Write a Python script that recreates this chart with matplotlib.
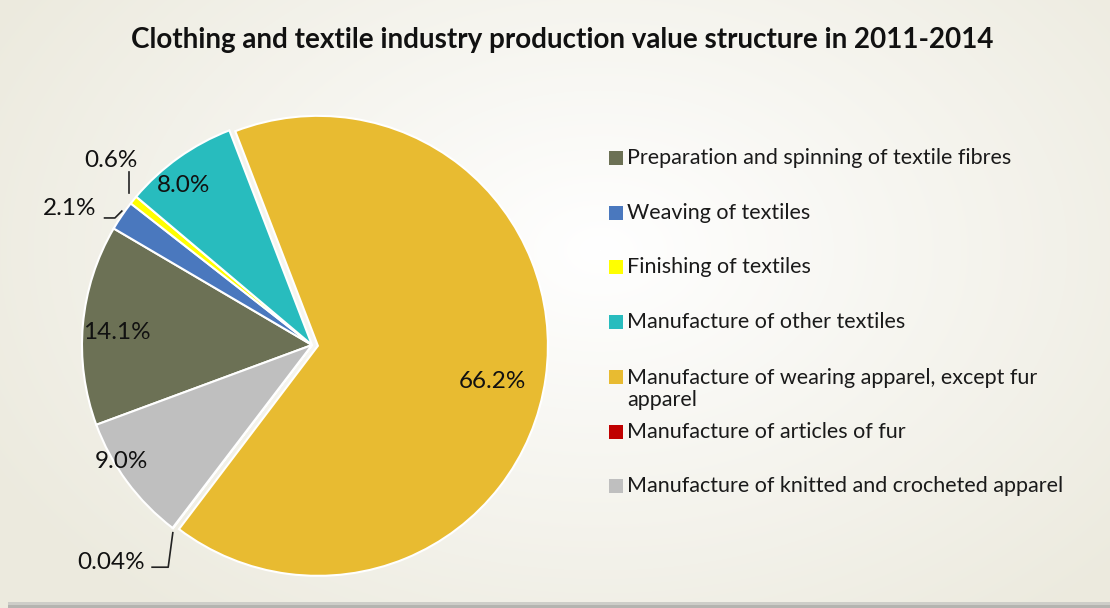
import numpy as np
import matplotlib
matplotlib.use("Agg")
import matplotlib.pyplot as plt
from matplotlib.patches import Rectangle

categories = [
    "Preparation and spinning of textile fibres",
    "Weaving of textiles",
    "Finishing of textiles",
    "Manufacture of other textiles",
    "Manufacture of wearing apparel, except fur\napparel",
    "Manufacture of articles of fur",
    "Manufacture of knitted and crocheted apparel",
]
values = [14.1, 2.1, 0.6, 8.0, 66.2, 0.04, 9.0]
labels = ["14.1%", "2.1%", "0.6%", "8.0%", "66.2%", "0.04%", "9.0%"]
colors = ["#6c7155", "#4a78be", "#ffff00", "#28bcbe", "#e8bb31", "#c00000", "#bfbfbf"]

W, H = 1110, 608
fig = plt.figure(figsize=(W / 100, H / 100), dpi=100)

# background gradient
bg = fig.add_axes([0, 0, 1, 1])
yy, xx = np.mgrid[0:H, 0:W]
d = np.sqrt(((xx - 600) / 700.0) ** 2 + ((yy - 250) / 480.0) ** 2)
d = np.clip(d, 0, 1)
c0 = np.array([1.0, 1.0, 1.0])
c1 = np.array([236, 234, 222]) / 255.0
img = c0[None, None, :] * (1 - d[..., None]) + c1[None, None, :] * d[..., None]
img[602:, 8:, :] = np.array([205, 205, 200]) / 255.0
img[605:, 8:, :] = np.array([180, 180, 176]) / 255.0
bg.imshow(img, aspect="auto", extent=[0, W, H, 0])
bg.set_axis_off()

font = ["Lato", "DejaVu Sans"]
fig.text(562 / W, 1 - 40 / H, "Clothing and textile industry production value structure in 2011-2014",
         ha="center", va="center", fontsize=20, fontweight="bold",
         family=font, color="#111111")

cx, cy, r = 312, 345, 230
ax = fig.add_axes([(cx - r) / W, (H - cy - r) / H, 2 * r / W, 2 * r / H])
ax.set_axis_off()

explode = [0, 0, 0, 0, 0.026, 0, 0]
wedges, _ = ax.pie(values, colors=colors, explode=explode, startangle=200.3,
                   counterclock=False, radius=1,
                   wedgeprops=dict(edgecolor="white", linewidth=1.5))
ax.set_xlim(-1, 1)
ax.set_ylim(-1, 1)

lfs = 17.5
# label placement: (distance from center, angle offset) per slice
label_dist = [0.85, None, None, 0.89, 0.80, None, 0.97]
label_doff = [1.5, 0, 0, 3.5, -3.5, 0, -5]
for i, w in enumerate(wedges):
    mid = np.deg2rad((w.theta1 + w.theta2) / 2 + label_doff[i])
    if label_dist[i] is not None:
        ax.text(label_dist[i] * np.cos(mid), label_dist[i] * np.sin(mid), labels[i],
                ha="center", va="center", fontsize=lfs, family=font, color="#111111")

def edge(i):
    w = wedges[i]
    a = np.deg2rad((w.theta1 + w.theta2) / 2)
    return np.cos(a), np.sin(a)

# 0.6% label (Finishing)
ex, ey = edge(2)
ax.plot([ex - 0.02, ex - 0.02], [ey + 0.03, ey + 0.12], color="#222222", lw=1.2, clip_on=False)
ax.text(ex - 0.10, ey + 0.17, labels[2], ha="center", va="center", fontsize=lfs, family=font, color="#111111")

# 2.1% label (Weaving)
ex, ey = edge(1)
ax.plot([ex, ex - 0.03, ex - 0.075], [ey + 0.02, ey - 0.01, ey - 0.01], color="#222222", lw=1.2, clip_on=False)
ax.text(ex - 0.11, ey + 0.03, labels[1], ha="right", va="center", fontsize=lfs, family=font, color="#111111")

# 0.04% label (fur)
ex, ey = edge(5)
ax.plot([ex, ex - 0.02, ex - 0.09], [ey - 0.02, ey - 0.17, ey - 0.17], color="#222222", lw=1.2, clip_on=False)
ax.text(ex - 0.12, ey - 0.15, labels[5], ha="right", va="center", fontsize=lfs, family=font, color="#111111")

# legend
lgfs = 15.5
ys = [158, 213, 267, 322, 377, 432, 486]
for i, (cat, col) in enumerate(zip(categories, colors)):
    y = ys[i]
    fig.patches.append(Rectangle((609 / W, 1 - (y + 7) / H), 14 / W, 14 / H,
                                 transform=fig.transFigure, facecolor=col, edgecolor="none"))
    if "\n" in cat:
        fig.text(627 / W, 1 - (y - 9) / H, cat, ha="left", va="top",
                 fontsize=lgfs, family=font, color="#1a1a1a", linespacing=1.12)
    else:
        fig.text(627 / W, 1 - y / H, cat, ha="left", va="center",
                 fontsize=lgfs, family=font, color="#1a1a1a")

fig.savefig("out.png", dpi=100)
